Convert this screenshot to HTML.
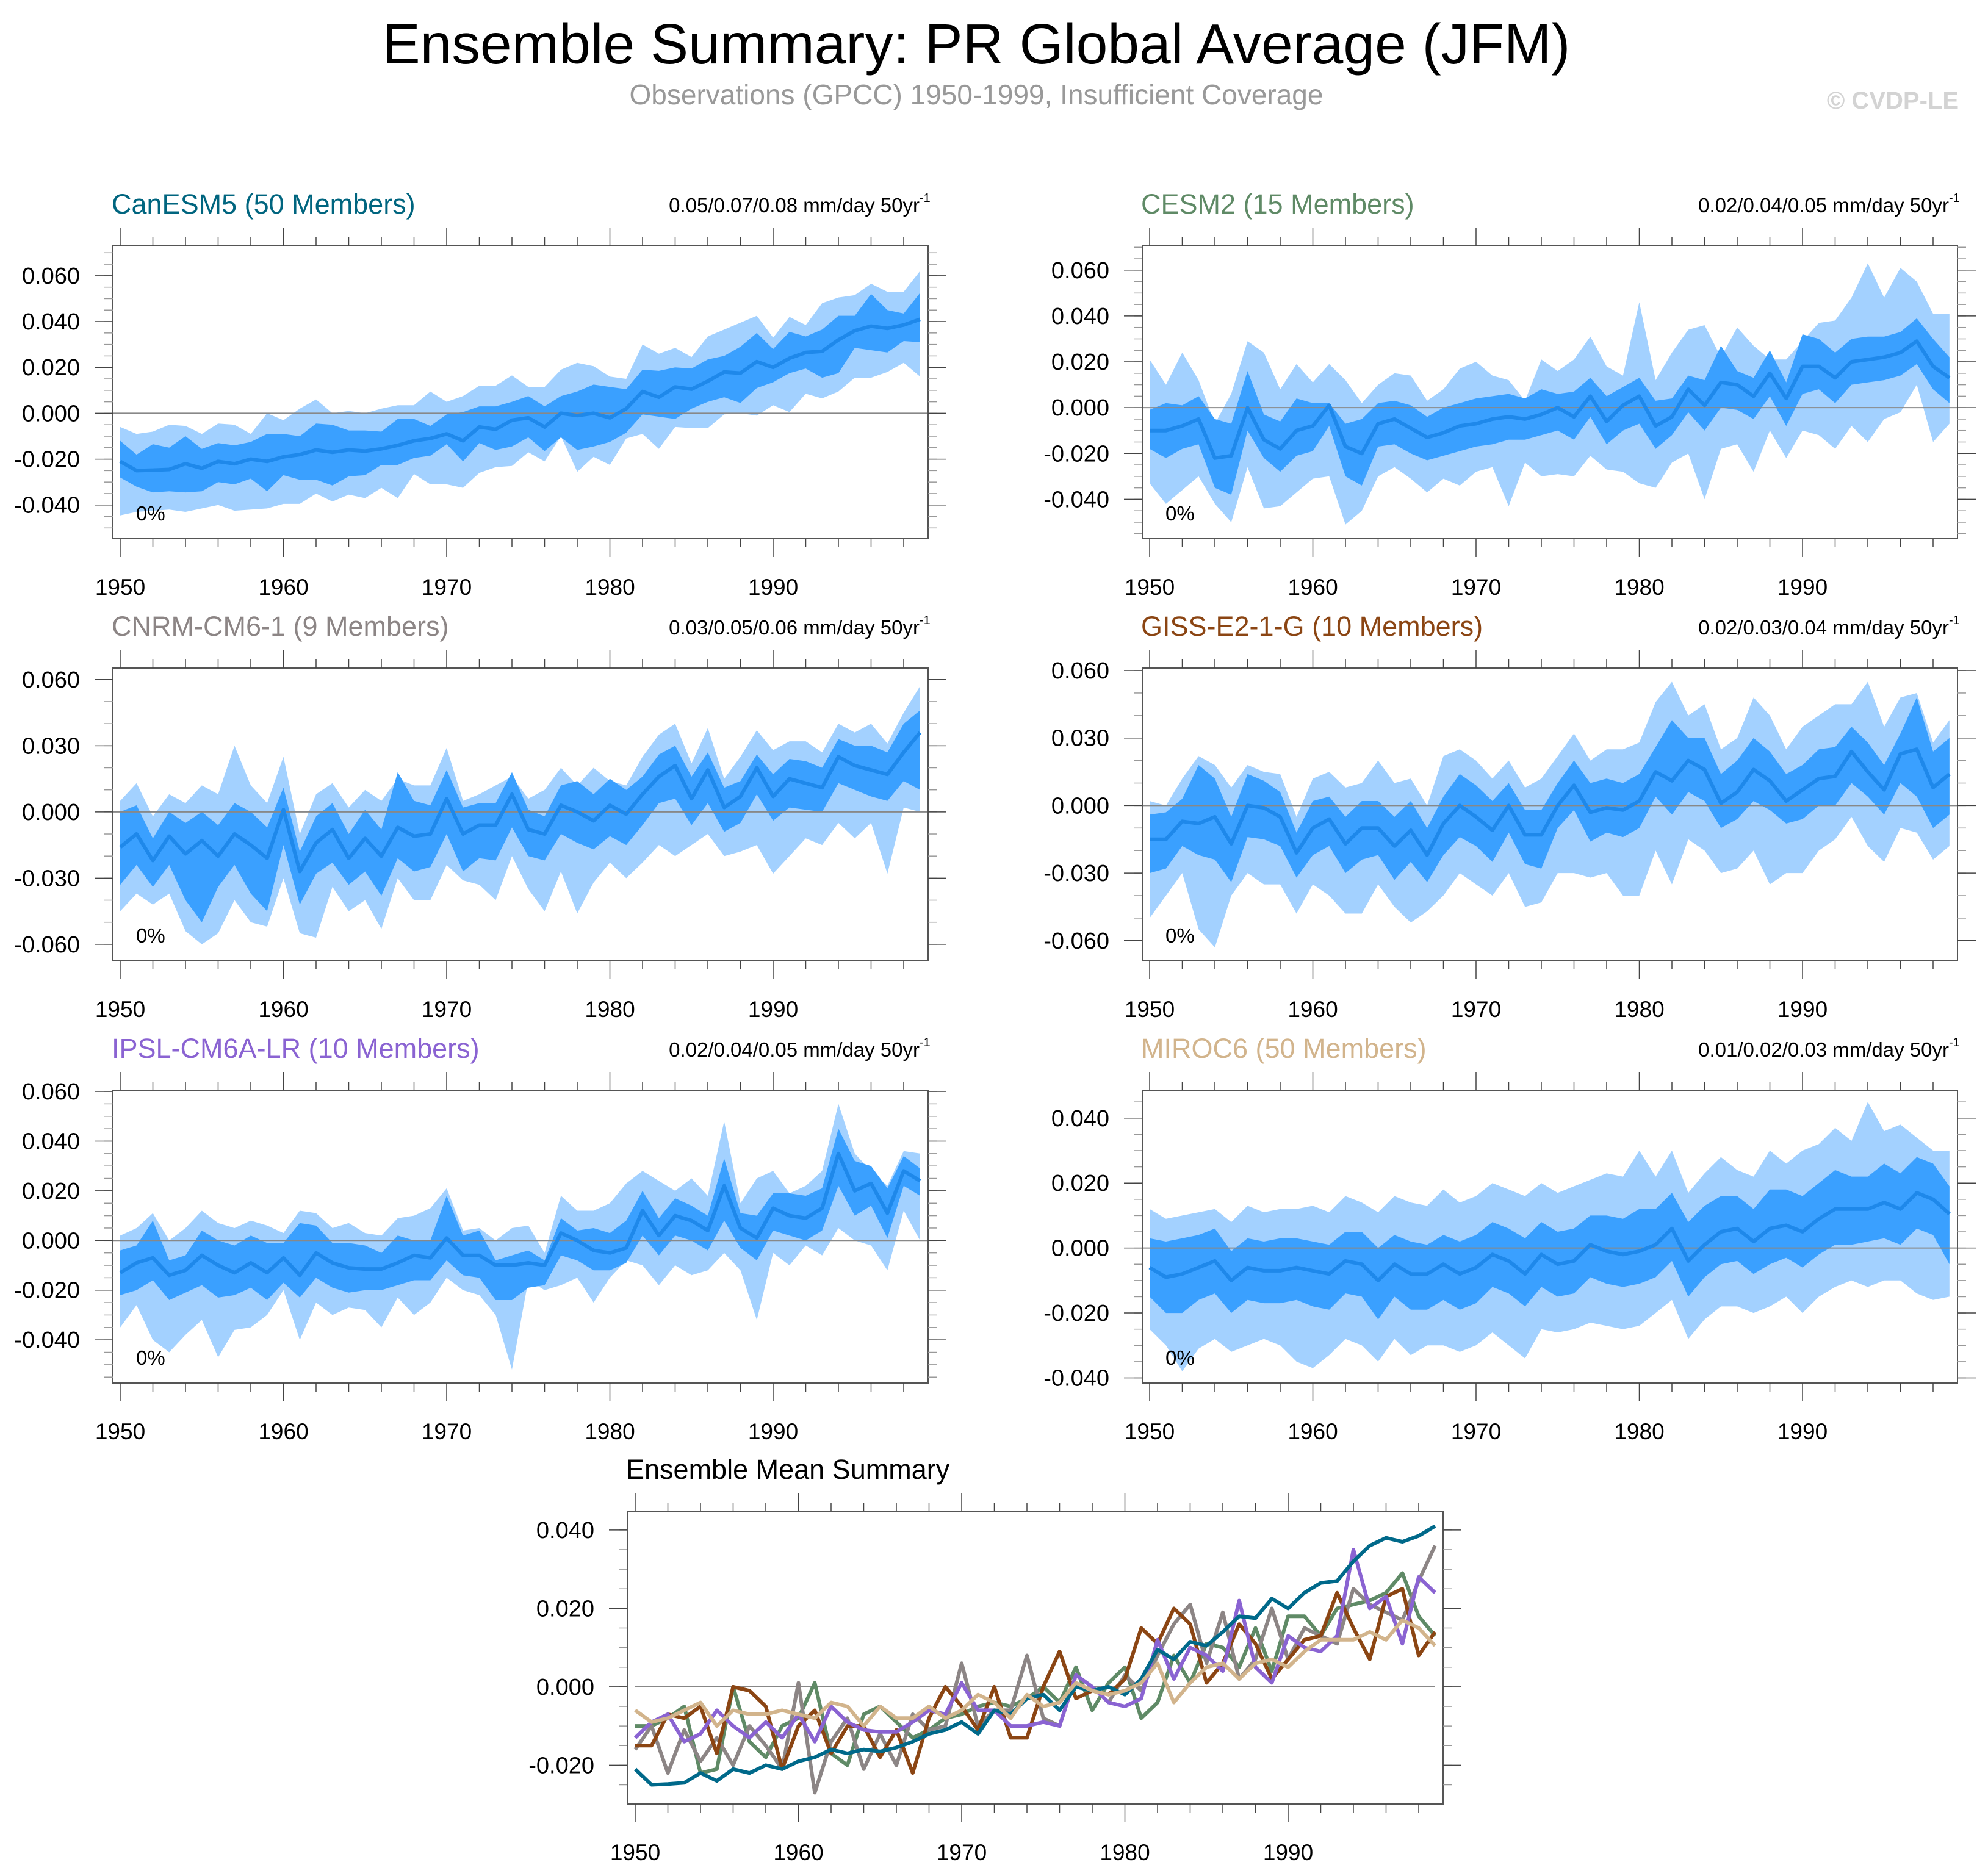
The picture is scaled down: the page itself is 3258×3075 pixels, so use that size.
<!DOCTYPE html>
<html><head><meta charset="utf-8"><style>
html,body{margin:0;padding:0;background:#fff}
svg{display:block}
text{font-family:"Liberation Sans",sans-serif}
</style></head><body>
<svg id="chart" xmlns="http://www.w3.org/2000/svg" width="3258" height="3075" viewBox="0 0 3258 3075">
<rect width="3258" height="3075" fill="#fff"/>
<text x="1600" y="104" font-size="93" text-anchor="middle" fill="#000">Ensemble Summary: PR Global Average (JFM)</text>
<text x="1600" y="171" font-size="46" text-anchor="middle" fill="#999">Observations (GPCC) 1950-1999, Insufficient Coverage</text>
<text x="3210" y="178" font-size="40" font-weight="bold" text-anchor="end" fill="#d3d3d3">© CVDP-LE</text>
<g id="panels"></g>
</svg>
<script>
const years = [];
for (let y = 1950; y <= 1999; y++) years.push(y);

const canMean = [-0.021,-0.025,-0.0248,-0.0245,-0.022,-0.024,-0.021,-0.022,-0.020,-0.021,
 -0.019,-0.018,-0.016,-0.017,-0.016,-0.0165,-0.0155,-0.014,-0.012,-0.011,
 -0.009,-0.012,-0.006,-0.007,-0.003,-0.002,-0.006,0.000,-0.001,0.000,
 -0.002,0.002,0.0095,0.007,0.0115,0.0105,0.014,0.018,0.0175,0.0225,
 0.020,0.024,0.0265,0.027,0.032,0.036,0.038,0.037,0.0385,0.041];
const canOuterHi = [-0.006,-0.009,-0.008,-0.005,-0.0055,-0.009,-0.0045,-0.005,-0.009,0.000,
 -0.003,0.002,0.006,0.000,0.001,0.000,0.002,0.0035,0.0035,0.0095,
 0.005,0.0075,0.012,0.012,0.0165,0.0115,0.0115,0.019,0.022,0.0205,
 0.016,0.015,0.030,0.026,0.0285,0.0245,0.0335,0.0365,0.0395,0.0425,
 0.033,0.042,0.0385,0.048,0.0505,0.0515,0.0565,0.053,0.053,0.062];
const canInnerHi = [-0.012,-0.018,-0.0135,-0.015,-0.010,-0.0155,-0.013,-0.014,-0.0125,-0.009,
 -0.009,-0.010,-0.0045,-0.005,-0.0075,-0.0075,-0.008,-0.0025,-0.0025,-0.0055,
 -0.0005,0.0005,0.003,0.003,0.005,0.0075,0.003,0.0075,0.0095,0.0125,
 0.0115,0.0105,0.019,0.0185,0.020,0.0195,0.0235,0.025,0.029,0.035,
 0.028,0.0355,0.0335,0.0365,0.0425,0.0425,0.052,0.045,0.0435,0.0525];
const canInnerLo = [-0.028,-0.032,-0.0345,-0.034,-0.0345,-0.034,-0.030,-0.031,-0.0285,-0.034,
 -0.027,-0.029,-0.029,-0.0315,-0.0275,-0.027,-0.0225,-0.0225,-0.0195,-0.0185,
 -0.0135,-0.021,-0.013,-0.016,-0.0145,-0.0105,-0.0165,-0.0105,-0.016,-0.0145,
 -0.0125,-0.0085,-0.0005,-0.0015,-0.0025,0.002,0.005,0.007,0.0045,0.011,
 0.0135,0.0175,0.0195,0.0155,0.0175,0.0285,0.0275,0.0265,0.0315,0.031];
const canOuterLo = [-0.0445,-0.043,-0.0425,-0.042,-0.043,-0.0415,-0.040,-0.0425,-0.042,-0.0415,
 -0.0395,-0.0395,-0.035,-0.0385,-0.0355,-0.037,-0.0325,-0.037,-0.0265,-0.031,
 -0.031,-0.0325,-0.026,-0.0235,-0.023,-0.017,-0.021,-0.010,-0.0255,-0.019,
 -0.0225,-0.011,-0.009,-0.0155,-0.006,-0.0065,-0.0065,-0.0005,0.000,-0.001,
 0.0035,0.0005,0.0085,0.0065,0.0095,0.0155,0.0155,0.018,0.022,0.016];

const cesmMean = [-0.010,-0.010,-0.008,-0.005,-0.022,-0.021,0.000,-0.014,-0.018,-0.010,
 -0.008,0.001,-0.017,-0.020,-0.007,-0.005,-0.009,-0.013,-0.011,-0.008,
 -0.007,-0.005,-0.004,-0.005,-0.003,0.000,-0.004,0.005,-0.006,0.001,
 0.005,-0.008,-0.004,0.008,0.001,0.011,0.010,0.005,0.015,0.004,
 0.018,0.018,0.013,0.020,0.021,0.022,0.024,0.029,0.018,0.013];
const cesmOuterHi = [0.021,0.010,0.024,0.012,-0.007,0.006,0.029,0.024,0.008,0.019,
 0.011,0.019,0.012,0.002,0.010,0.015,0.014,0.003,0.008,0.017,
 0.020,0.014,0.012,0.003,0.021,0.016,0.021,0.031,0.018,0.014,
 0.046,0.012,0.024,0.034,0.036,0.022,0.035,0.027,0.021,0.021,
 0.029,0.037,0.038,0.048,0.063,0.048,0.061,0.055,0.041,0.041];
const cesmInnerHi = [-0.001,0.002,0.001,0.005,-0.005,-0.007,0.016,-0.003,-0.006,0.004,
 0.002,0.002,-0.007,-0.005,0.002,0.003,0.001,-0.004,0.000,0.002,
 0.004,0.005,0.006,0.004,0.008,0.006,0.007,0.013,0.005,0.009,
 0.013,0.003,0.004,0.014,0.012,0.027,0.016,0.013,0.025,0.011,
 0.032,0.030,0.024,0.030,0.031,0.031,0.033,0.039,0.030,0.022];
const cesmInnerLo = [-0.018,-0.022,-0.018,-0.016,-0.035,-0.038,-0.010,-0.022,-0.028,-0.021,
 -0.019,-0.008,-0.030,-0.034,-0.017,-0.016,-0.020,-0.023,-0.021,-0.019,
 -0.017,-0.016,-0.014,-0.014,-0.012,-0.010,-0.014,-0.004,-0.016,-0.010,
 -0.007,-0.018,-0.012,-0.002,-0.010,0.000,-0.001,-0.005,0.005,-0.008,
 0.006,0.008,0.002,0.010,0.011,0.012,0.014,0.019,0.008,0.002];
const cesmOuterLo = [-0.033,-0.042,-0.036,-0.030,-0.042,-0.050,-0.026,-0.044,-0.043,-0.037,
 -0.031,-0.030,-0.051,-0.045,-0.030,-0.026,-0.031,-0.037,-0.031,-0.034,
 -0.028,-0.026,-0.043,-0.024,-0.030,-0.029,-0.030,-0.021,-0.027,-0.028,
 -0.033,-0.035,-0.024,-0.020,-0.040,-0.018,-0.016,-0.028,-0.010,-0.022,
 -0.010,-0.012,-0.018,-0.008,-0.015,-0.005,-0.002,0.010,-0.015,-0.007];

const cnrmMean = [-0.016,-0.010,-0.022,-0.011,-0.019,-0.013,-0.020,-0.010,-0.015,-0.021,
 0.001,-0.027,-0.014,-0.008,-0.021,-0.012,-0.020,-0.007,-0.011,-0.010,
 0.006,-0.010,-0.006,-0.006,0.008,-0.008,-0.010,0.003,0.000,-0.004,
 0.003,-0.001,0.008,0.016,0.021,0.006,0.019,0.002,0.007,0.020,
 0.007,0.015,0.013,0.011,0.025,0.021,0.019,0.017,0.027,0.036];
const cnrmOuterHi = [0.005,0.013,-0.002,0.008,0.004,0.012,0.008,0.030,0.012,0.004,
 0.025,-0.010,0.008,0.013,0.002,0.010,0.005,0.015,0.012,0.012,
 0.029,0.005,0.008,0.012,0.016,0.006,0.010,0.020,0.012,0.020,
 0.014,0.012,0.025,0.035,0.040,0.022,0.038,0.015,0.025,0.037,
 0.028,0.032,0.032,0.027,0.040,0.036,0.040,0.031,0.045,0.057];
const cnrmInnerHi = [0.000,0.003,-0.012,0.000,-0.005,0.000,-0.006,0.004,0.000,-0.007,
 0.011,-0.018,-0.002,0.004,-0.010,0.001,-0.008,0.018,0.005,0.003,
 0.019,0.002,0.004,0.004,0.018,0.001,-0.002,0.012,0.014,0.008,
 0.015,0.010,0.016,0.026,0.030,0.016,0.027,0.011,0.014,0.026,
 0.017,0.024,0.023,0.020,0.033,0.030,0.030,0.027,0.040,0.046];
const cnrmInnerLo = [-0.033,-0.024,-0.034,-0.024,-0.040,-0.050,-0.034,-0.024,-0.037,-0.045,
 -0.015,-0.042,-0.028,-0.023,-0.033,-0.027,-0.038,-0.021,-0.027,-0.025,
 -0.010,-0.027,-0.021,-0.022,-0.007,-0.020,-0.022,-0.010,-0.014,-0.017,
 -0.011,-0.015,-0.006,0.004,0.006,-0.006,0.004,-0.009,-0.005,0.008,
 -0.004,0.002,0.001,0.000,0.013,0.010,0.007,0.005,0.014,0.010];
const cnrmOuterLo = [-0.045,-0.037,-0.042,-0.037,-0.054,-0.060,-0.055,-0.040,-0.050,-0.052,
 -0.030,-0.055,-0.057,-0.034,-0.045,-0.040,-0.053,-0.030,-0.040,-0.040,
 -0.024,-0.031,-0.033,-0.040,-0.020,-0.035,-0.045,-0.027,-0.046,-0.032,
 -0.023,-0.030,-0.023,-0.015,-0.020,-0.015,-0.010,-0.020,-0.018,-0.015,
 -0.028,-0.020,-0.012,-0.015,-0.005,-0.012,-0.005,-0.028,0.002,0.000];

const gissMean = [-0.015,-0.015,-0.007,-0.008,-0.005,-0.017,0.000,-0.001,-0.005,-0.021,
 -0.010,-0.006,-0.017,-0.010,-0.010,-0.018,-0.011,-0.022,-0.008,0.000,
 -0.005,-0.011,0.000,-0.013,-0.013,0.000,0.009,-0.003,-0.001,-0.002,
 0.002,0.015,0.011,0.020,0.016,0.001,0.006,0.016,0.011,0.002,
 0.007,0.012,0.013,0.024,0.015,0.007,0.023,0.025,0.008,0.014];
const gissOuterHi = [0.002,0.000,0.012,0.022,0.018,0.008,0.018,0.015,0.014,-0.005,
 0.012,0.015,0.008,0.010,0.020,0.010,0.012,0.000,0.022,0.025,
 0.020,0.012,0.020,0.008,0.012,0.022,0.032,0.020,0.025,0.025,
 0.028,0.046,0.055,0.040,0.045,0.025,0.030,0.048,0.040,0.025,
 0.035,0.040,0.045,0.045,0.055,0.035,0.048,0.050,0.028,0.038];
const gissInnerHi = [-0.004,-0.003,0.003,0.018,0.012,-0.005,0.014,0.011,0.006,-0.012,
 0.002,0.004,-0.005,0.002,0.002,-0.005,0.002,-0.010,0.004,0.014,
 0.009,0.002,0.010,-0.002,-0.002,0.010,0.020,0.010,0.012,0.010,
 0.014,0.026,0.038,0.030,0.030,0.014,0.020,0.030,0.024,0.014,
 0.018,0.025,0.026,0.035,0.028,0.018,0.032,0.048,0.024,0.030];
const gissInnerLo = [-0.030,-0.028,-0.018,-0.022,-0.024,-0.034,-0.014,-0.015,-0.018,-0.032,
 -0.022,-0.018,-0.030,-0.024,-0.022,-0.033,-0.025,-0.034,-0.022,-0.014,
 -0.018,-0.025,-0.012,-0.026,-0.028,-0.010,-0.002,-0.016,-0.012,-0.014,
 -0.010,0.004,-0.004,0.006,0.002,-0.010,-0.006,0.002,-0.002,-0.008,
 -0.006,0.000,0.000,0.010,0.004,-0.004,0.010,0.004,-0.010,-0.004];
const gissOuterLo = [-0.050,-0.040,-0.030,-0.055,-0.063,-0.040,-0.030,-0.035,-0.035,-0.048,
 -0.035,-0.040,-0.048,-0.048,-0.035,-0.045,-0.052,-0.047,-0.040,-0.030,
 -0.035,-0.040,-0.030,-0.045,-0.043,-0.030,-0.030,-0.032,-0.030,-0.040,
 -0.040,-0.020,-0.035,-0.015,-0.020,-0.030,-0.028,-0.020,-0.035,-0.030,
 -0.030,-0.020,-0.015,-0.005,-0.018,-0.025,-0.010,-0.012,-0.024,-0.018];

const ipslMean = [-0.013,-0.009,-0.007,-0.014,-0.012,-0.006,-0.010,-0.013,-0.009,-0.013,
 -0.007,-0.014,-0.005,-0.009,-0.011,-0.0115,-0.0115,-0.009,-0.006,-0.007,
 0.001,-0.006,-0.006,-0.010,-0.010,-0.009,-0.010,0.003,0.000,-0.004,
 -0.005,-0.003,0.012,0.002,0.010,0.008,0.004,0.022,0.005,0.001,
 0.013,0.010,0.009,0.013,0.035,0.020,0.023,0.011,0.028,0.024];
const ipslOuterHi = [0.002,0.005,0.011,0.000,0.005,0.012,0.007,0.005,0.008,0.006,
 0.003,0.012,0.011,0.005,0.007,0.003,0.002,0.009,0.010,0.013,
 0.021,0.004,0.005,0.000,0.005,0.006,-0.005,0.018,0.012,0.012,
 0.015,0.023,0.028,0.024,0.020,0.025,0.018,0.048,0.015,0.025,
 0.028,0.019,0.022,0.028,0.055,0.035,0.028,0.022,0.036,0.035];
const ipslInnerHi = [-0.004,-0.002,0.008,-0.008,-0.006,0.004,0.000,-0.002,0.002,-0.001,
 -0.001,0.007,0.006,-0.001,-0.001,-0.002,-0.005,0.002,0.000,0.000,
 0.018,0.002,0.004,-0.008,-0.006,-0.004,-0.008,0.009,0.004,0.005,
 0.003,0.008,0.020,0.009,0.017,0.014,0.010,0.033,0.011,0.010,
 0.019,0.019,0.018,0.021,0.045,0.032,0.030,0.021,0.034,0.029];
const ipslInnerLo = [-0.022,-0.020,-0.016,-0.024,-0.021,-0.018,-0.023,-0.022,-0.019,-0.024,
 -0.017,-0.023,-0.015,-0.019,-0.021,-0.020,-0.020,-0.018,-0.016,-0.016,
 -0.008,-0.014,-0.015,-0.024,-0.024,-0.019,-0.018,-0.006,-0.008,-0.012,
 -0.012,-0.009,0.002,-0.006,0.002,0.000,-0.004,0.008,-0.003,-0.008,
 0.004,0.002,0.000,0.004,0.022,0.010,0.014,0.001,0.022,0.018];
const ipslOuterLo = [-0.035,-0.026,-0.040,-0.045,-0.038,-0.032,-0.047,-0.036,-0.035,-0.030,
 -0.020,-0.040,-0.025,-0.030,-0.027,-0.028,-0.035,-0.023,-0.030,-0.025,
 -0.015,-0.020,-0.022,-0.030,-0.052,-0.016,-0.020,-0.018,-0.015,-0.025,
 -0.015,-0.008,-0.010,-0.018,-0.010,-0.014,-0.012,-0.005,-0.012,-0.032,
 -0.005,-0.010,-0.002,-0.006,0.005,0.000,-0.002,-0.012,0.012,0.000];

const mirocMean = [-0.006,-0.009,-0.008,-0.006,-0.004,-0.010,-0.006,-0.007,-0.007,-0.006,
 -0.007,-0.008,-0.004,-0.005,-0.010,-0.005,-0.008,-0.008,-0.005,-0.008,
 -0.006,-0.002,-0.004,-0.008,-0.002,-0.005,-0.004,0.001,-0.001,-0.002,
 -0.001,0.001,0.006,-0.004,0.001,0.005,0.006,0.002,0.006,0.007,
 0.005,0.009,0.012,0.012,0.012,0.014,0.012,0.017,0.015,0.0105];
const mirocOuterHi = [0.012,0.009,0.010,0.011,0.012,0.008,0.013,0.011,0.012,0.012,
 0.013,0.011,0.016,0.014,0.011,0.016,0.014,0.013,0.018,0.014,
 0.016,0.020,0.018,0.016,0.020,0.017,0.019,0.021,0.023,0.022,
 0.030,0.022,0.030,0.017,0.023,0.028,0.024,0.022,0.030,0.026,
 0.030,0.032,0.037,0.033,0.045,0.036,0.038,0.034,0.030,0.030];
const mirocInnerHi = [0.003,0.002,0.003,0.004,0.006,-0.001,0.003,0.002,0.003,0.003,
 0.002,0.001,0.005,0.005,0.000,0.004,0.002,0.001,0.004,0.002,
 0.004,0.008,0.006,0.003,0.008,0.005,0.006,0.010,0.010,0.009,
 0.012,0.012,0.017,0.008,0.013,0.016,0.016,0.012,0.018,0.018,
 0.016,0.020,0.024,0.022,0.022,0.026,0.023,0.028,0.026,0.019];
const mirocInnerLo = [-0.015,-0.020,-0.020,-0.016,-0.014,-0.020,-0.016,-0.017,-0.017,-0.016,
 -0.018,-0.019,-0.014,-0.015,-0.022,-0.015,-0.019,-0.019,-0.016,-0.019,
 -0.017,-0.012,-0.014,-0.018,-0.012,-0.015,-0.014,-0.009,-0.011,-0.012,
 -0.011,-0.009,-0.004,-0.015,-0.009,-0.005,-0.004,-0.008,-0.005,-0.003,
 -0.006,-0.002,0.001,0.001,0.002,0.003,0.001,0.006,0.004,-0.005];
const mirocOuterLo = [-0.025,-0.030,-0.038,-0.031,-0.028,-0.032,-0.030,-0.028,-0.030,-0.035,
 -0.037,-0.033,-0.028,-0.030,-0.035,-0.028,-0.033,-0.030,-0.030,-0.032,
 -0.030,-0.026,-0.030,-0.034,-0.025,-0.026,-0.025,-0.023,-0.024,-0.025,
 -0.024,-0.020,-0.016,-0.028,-0.022,-0.018,-0.018,-0.020,-0.018,-0.015,
 -0.020,-0.015,-0.012,-0.010,-0.012,-0.010,-0.010,-0.014,-0.016,-0.015];

const modelNames = ["CanESM5 (50 Members)","CESM2 (15 Members)","CNRM-CM6-1 (9 Members)","GISS-E2-1-G (10 Members)","IPSL-CM6A-LR (10 Members)","MIROC6 (50 Members)"];
const trendLabels = ["0.05/0.07/0.08","0.02/0.04/0.05","0.03/0.05/0.06","0.02/0.03/0.04","0.02/0.04/0.05","0.01/0.02/0.03"];
const xTickLabels = [1950,1960,1970,1980,1990];
const yTicks1 = [-0.04,-0.02,0.0,0.02,0.04,0.06];
const yTicks3 = [-0.06,-0.03,0.0,0.03,0.06];
const yTicksMiroc = [-0.04,-0.02,0.0,0.02,0.04];
const yTicksSummary = [-0.02,0.0,0.02,0.04];

const SVGNS = "http://www.w3.org/2000/svg";
const root = document.getElementById('panels');
function el(tag, attrs, parent){
  const e = document.createElementNS(SVGNS, tag);
  for (const k in attrs) e.setAttribute(k, attrs[k]);
  (parent||root).appendChild(e);
  return e;
}
function fmtTick(v){
  if (Math.abs(v) < 1e-9) return "0.000";
  return v.toFixed(3);
}

const colors = ['#00657f','#5f8a66','#8c8585','#8b4513','#8a63d2','#d2b48c'];
const sumColors = ['#00698a','#5f8a66','#8c8585','#8b4513','#8a63d2','#d2b48c'];

function makeAxes(g, L, T, W, H, yMin, yMax, ticks, tickLabel, minorStep, sx, sy){
  for (let yr = 1950; yr <= 1999; yr += 2) {
    const x = sx(yr); const major = (yr % 10 === 0);
    const len = major ? 30 : 14;
    const t1 = el('line',{x1:x,y1:T,x2:x,y2:T-len,stroke:'#444','stroke-width':1.5},g);
    
    
    const t2 = el('line',{x1:x,y1:T+H,x2:x,y2:T+H+len,stroke:'#444','stroke-width':1.5},g);
    
    
  }
  for (const yr of xTickLabels) {
    const t = el('text',{x:sx(yr),y:T+H+92,'font-size':37,'text-anchor':'middle',fill:'#000'},g);
    t.textContent = yr;
    
    
  }
  const start = Math.ceil(yMin/minorStep);
  for (let i = start; i*minorStep <= yMax; i++) {
    const v = i*minorStep; const y = sy(v);
    const a = el('line',{x1:L,y1:y,x2:L-14,y2:y,stroke:'#999','stroke-width':1.5},g);
    
    
    const b = el('line',{x1:L+W,y1:y,x2:L+W+14,y2:y,stroke:'#999','stroke-width':1.5},g);
    
    
  }
  for (const v of ticks) {
    const y = sy(v);
    const a = el('line',{x1:L,y1:y,x2:L-30,y2:y,stroke:'#444','stroke-width':1.5},g);
    
    
    const b = el('line',{x1:L+W,y1:y,x2:L+W+30,y2:y,stroke:'#444','stroke-width':1.5},g);
    
    
    const t = el('text',{x:L-54,y:y+13,'font-size':38,'text-anchor':'end',fill:'#000'},g);
    t.textContent = tickLabel(v);
    
    
  }
}

function bandPath(hi, lo, sx, sy){
  let d = '';
  years.forEach((yr,i)=>{ d += (i?'L':'M') + sx(yr).toFixed(1) + ',' + sy(hi[i]).toFixed(1); });
  for (let i = years.length-1; i >= 0; i--) d += 'L' + sx(years[i]).toFixed(1) + ',' + sy(lo[i]).toFixed(1);
  return d + 'Z';
}
function linePath(vals, sx, sy){
  let d = '';
  years.forEach((yr,i)=>{ d += (i?'L':'M') + sx(yr).toFixed(1) + ',' + sy(vals[i]).toFixed(1); });
  return d;
}

const panelDefs = [
  {L:185, T:403, yMin:-0.0547, yMax:0.073, ticks:yTicks1, minor:0.005, data:[canMean,canOuterHi,canInnerHi,canInnerLo,canOuterLo]},
  {L:1872, T:403, yMin:-0.0572, yMax:0.0706, ticks:yTicks1, minor:0.005, data:[cesmMean,cesmOuterHi,cesmInnerHi,cesmInnerLo,cesmOuterLo]},
  {L:185, T:1095, yMin:-0.0675, yMax:0.0652, ticks:yTicks3, minor:0.01, data:[cnrmMean,cnrmOuterHi,cnrmInnerHi,cnrmInnerLo,cnrmOuterLo]},
  {L:1872, T:1095, yMin:-0.069, yMax:0.0611, ticks:yTicks3, minor:0.01, data:[gissMean,gissOuterHi,gissInnerHi,gissInnerLo,gissOuterLo]},
  {L:185, T:1787, yMin:-0.0574, yMax:0.0605, ticks:yTicks1, minor:0.005, data:[ipslMean,ipslOuterHi,ipslInnerHi,ipslInnerLo,ipslOuterLo]},
  {L:1872, T:1787, yMin:-0.0416, yMax:0.0486, ticks:yTicksMiroc, minor:0.005, data:[mirocMean,mirocOuterHi,mirocInnerHi,mirocInnerLo,mirocOuterLo]},
];
const W = 1336, H = 480;

panelDefs.forEach((p, k) => {
  const g = el('g',{});
  
  
  const sx = yr => p.L + 12 + (yr-1950)*26.75;
  const sy = v => p.T + (p.yMax - v)/(p.yMax - p.yMin)*H;
  const [mean, oHi, iHi, iLo, oLo] = p.data;
  const ob = el('path',{d:bandPath(oHi,oLo,sx,sy),fill:'#a3d1ff'},g);
  
  
  const ib = el('path',{d:bandPath(iHi,iLo,sx,sy),fill:'#3aa0ff'},g);
  
  
  const z = el('line',{x1:p.L,y1:sy(0),x2:p.L+W,y2:sy(0),stroke:'#888','stroke-width':2},g);
  
  
  const ml = el('path',{d:linePath(mean,sx,sy),fill:'none',stroke:'#1e88ea','stroke-width':6,'stroke-linejoin':'round'},g);
  
  
  const fr = el('rect',{x:p.L,y:p.T,width:W,height:H,fill:'none',stroke:'#555','stroke-width':2},g);
  
  
  makeAxes(g, p.L, p.T, W, H, p.yMin, p.yMax, p.ticks, fmtTick, p.minor, sx, sy);
  const tt = el('text',{x:p.L-2,y:p.T-53,'font-size':45,fill:colors[k]},g);
  tt.textContent = modelNames[k];
  
  
  const tr = el('text',{x:p.L+W-14,y:p.T-55,'font-size':33,'text-anchor':'end',fill:'#000'},g);
  tr.textContent = trendLabels[k] + ' mm/day 50yr';
  
  
  const sup = el('text',{x:p.L+W-14,y:p.T-72,'font-size':20,'text-anchor':'start',fill:'#000'},g);
  sup.textContent = '-1';
  
  
  const pc = el('text',{x:p.L+38,y:p.T+450,'font-size':33,fill:'#000'},g);
  pc.textContent = '0%';
  
  
});

const sumMeans = [canMean, cesmMean, cnrmMean, gissMean, ipslMean, mirocMean];
(function(){
  const L = 1028, T = 2477, SW = 1337, SH = 480, yMin = -0.0299, yMax = 0.0448;
  const g = el('g',{});
  
  
  const sx = yr => L + 13 + (yr-1950)*26.75;
  const sy = v => T + (yMax - v)/(yMax - yMin)*SH;
  const z = el('line',{x1:sx(1950),y1:sy(0),x2:sx(1999),y2:sy(0),stroke:'#888','stroke-width':2},g);
  
  
  const order = [1,2,3,4,0,5];
  order.forEach(k => {
    const p = el('path',{d:linePath(sumMeans[k],sx,sy),fill:'none',stroke:sumColors[k],'stroke-width':6,'stroke-linejoin':'round'},g);
    
    
  });
  const fr = el('rect',{x:L,y:T,width:SW,height:SH,fill:'none',stroke:'#555','stroke-width':2},g);
  
  
  makeAxes(g, L, T, SW, SH, yMin, yMax, yTicksSummary, fmtTick, 0.005, sx, sy);
  const tt = el('text',{x:L-2,y:T-53,'font-size':45,fill:'#000'},g);
  tt.textContent = 'Ensemble Mean Summary';
  
  
})();
</script>
</body></html>
